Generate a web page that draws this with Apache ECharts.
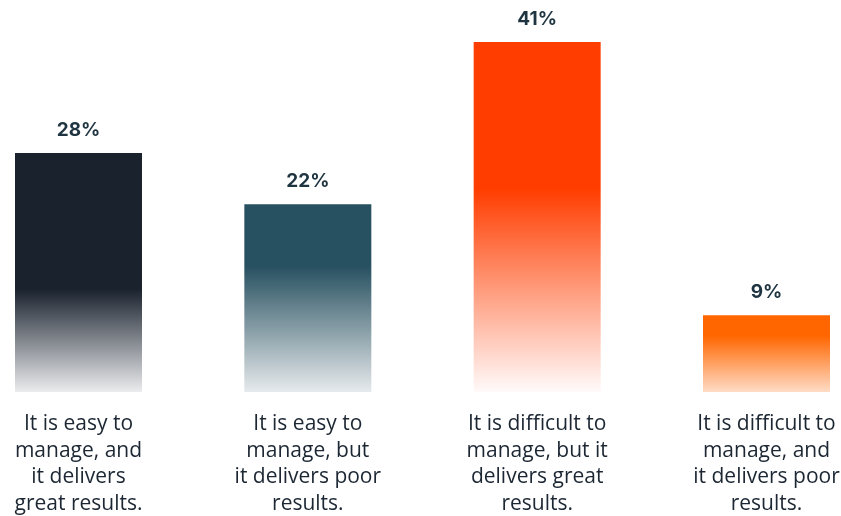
<!DOCTYPE html>
<html>
<head>
<meta charset="utf-8">
<script src="https://cdn.jsdelivr.net/npm/echarts@6/dist/echarts.min.js"></script>
<style>
  html, body { margin: 0; padding: 0; background: #fff; }
  #chart { width: 841px; height: 516px; }
</style>
</head>
<body>
<div id="chart"></div>
<script>
// Survey answers and their shares (%)
const categories = [
  'It is easy to\nmanage, and\nit delivers\ngreat results.',
  'It is easy to\nmanage, but\nit delivers poor\nresults.',
  'It is difficult to\nmanage, but it\ndelivers great\nresults.',
  'It is difficult to\nmanage, and\nit delivers poor\nresults.'
];
const shares = [28, 22, 41, 9];

// Bar colours: solid top, fading toward the baseline
const topColors = ['#1a222e', '#275060', '#ff3d00', '#ff6600'];
const bottomColors = ['#ebecee', '#e6eaec', '#fffafa', '#ffdcc6'];
const fadeStart = [0.57, 0.33, 0.42, 0.27];

const chart = echarts.init(document.getElementById('chart'), null, { renderer: 'canvas' });

const data = shares.map((v, i) => ({
  value: v,
  itemStyle: {
    color: new echarts.graphic.LinearGradient(0, 0, 0, 1, [
      { offset: 0, color: topColors[i] },
      { offset: fadeStart[i], color: topColors[i] },
      { offset: 1, color: bottomColors[i] }
    ])
  }
}));

chart.setOption({
  animation: false,
  // bars sit on the ticks, so the outer columns reach close to the edges
  grid: { left: 78.5, right: 74.5, top: 42, bottom: 124, outerBoundsMode: 'none' },
  xAxis: {
    type: 'category',
    data: categories,
    boundaryGap: false,
    axisLine: { show: false },
    axisTick: { show: false },
    axisLabel: {
      interval: 0,
      margin: 19,
      color: '#1c2733',
      fontFamily: 'Open Sans',
      fontSize: 21,
      lineHeight: 26.5
    }
  },
  yAxis: {
    type: 'value',
    min: 0,
    max: 41,
    show: false,
    splitLine: { show: false }
  },
  series: [{
    type: 'bar',
    data: data,
    barWidth: 127,
    label: {
      show: true,
      position: 'top',
      distance: 13,
      formatter: '{c}%',
      color: '#1e3440',
      fontFamily: 'Inter',
      fontWeight: 'bold',
      fontSize: 19
    }
  }]
});
</script>
</body>
</html>
